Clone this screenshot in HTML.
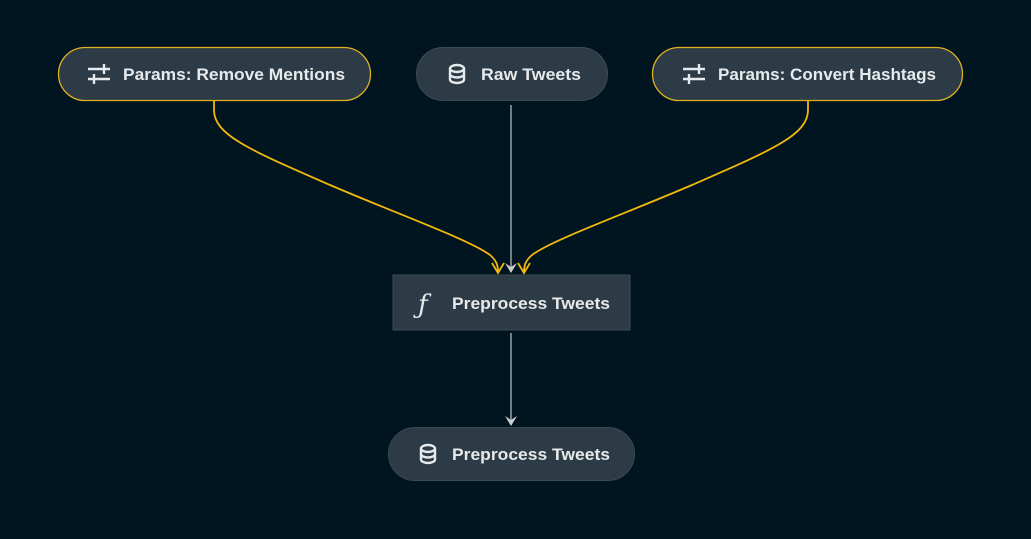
<!DOCTYPE html>
<html><head><meta charset="utf-8"><style>
html,body{margin:0;padding:0;background:#011520;}
svg{display:block}
text{font-family:"Liberation Sans",sans-serif;font-weight:bold;font-size:17px;fill:#e6eaec}
</style></head><body>
<svg width="1031" height="539" viewBox="0 0 1031 539">
<rect width="1031" height="539" fill="#011520"/>
<!-- edges -->
<path d="M214,101 L214,110 C214,135 250,150 330,185 C400,215 470,240 490,255 C497,261 498,266 498,272" fill="none" stroke="#f2b90c" stroke-width="1.8"/>
<path d="M808,101 L808,110 C808,135 772,150 692,185 C622,215 552,240 532,255 C525,261 524,266 524,272" fill="none" stroke="#f2b90c" stroke-width="1.8"/>
<path d="M492,263 L498,273 L504,263" fill="none" stroke="#f2b90c" stroke-width="1.8"/>
<path d="M518,263 L524,273 L530,263" fill="none" stroke="#f2b90c" stroke-width="1.8"/>
<line x1="511" y1="105" x2="511" y2="272" stroke="#9aa2a8" stroke-width="1.5"/>
<path d="M505,263 L511,273 L517,263 L511,267 Z" fill="#c8cdd0"/>
<line x1="511" y1="333" x2="511" y2="424" stroke="#9aa2a8" stroke-width="1.5"/>
<path d="M505,416 L511,426 L517,416 L511,420 Z" fill="#c8cdd0"/>
<!-- nodes -->
<rect x="58.5" y="47.5" width="312" height="53" rx="26.5" fill="#2c3b45" stroke="#e0b020" stroke-width="1.3"/>
<rect x="416.5" y="47.5" width="191" height="53" rx="26.5" fill="#2c3b45" stroke="#3b4a54" stroke-width="1"/>
<rect x="652.5" y="47.5" width="310" height="53" rx="26.5" fill="#2c3b45" stroke="#e0b020" stroke-width="1.3"/>
<rect x="393" y="275" width="237" height="55" fill="#2c3b45" stroke="#3b4a54" stroke-width="1"/>
<rect x="388.5" y="427.5" width="246" height="53" rx="26.5" fill="#2c3b45" stroke="#3b4a54" stroke-width="1"/>
<!-- icons: params -->
<g stroke="#e6eaec" stroke-width="2.4" fill="none">
<path d="M88,69 H110 M104,64 V74 M88,79 H110 M94,74 V84"/>
<path d="M683,69 H705 M699,64 V74 M683,79 H705 M689,74 V84"/>
</g>
<!-- db icons -->
<g stroke="#e6eaec" stroke-width="2.4" fill="none">
<g transform="translate(457,74)"><ellipse cx="0" cy="-5.5" rx="7" ry="3.5"/><path d="M-7,-5.5 V5.5 A7,3.5 0 0 0 7,5.5 V-5.5 M-7,0 A7,3.5 0 0 0 7,0"/></g>
<g transform="translate(428,454)"><ellipse cx="0" cy="-5.5" rx="7" ry="3.5"/><path d="M-7,-5.5 V5.5 A7,3.5 0 0 0 7,5.5 V-5.5 M-7,0 A7,3.5 0 0 0 7,0"/></g>
</g>
<text x="418" y="313" style="font-family:'DejaVu Serif',serif;font-style:italic;font-weight:normal;font-size:26px">ƒ</text>
<!-- labels -->
<text x="123" y="80" textLength="222" lengthAdjust="spacingAndGlyphs">Params: Remove Mentions</text>
<text x="481" y="80" textLength="100" lengthAdjust="spacingAndGlyphs">Raw Tweets</text>
<text x="718" y="80" textLength="218" lengthAdjust="spacingAndGlyphs">Params: Convert Hashtags</text>
<text x="452" y="309" textLength="158" lengthAdjust="spacingAndGlyphs">Preprocess Tweets</text>
<text x="452" y="460" textLength="158" lengthAdjust="spacingAndGlyphs">Preprocess Tweets</text>
</svg>
</body></html>
